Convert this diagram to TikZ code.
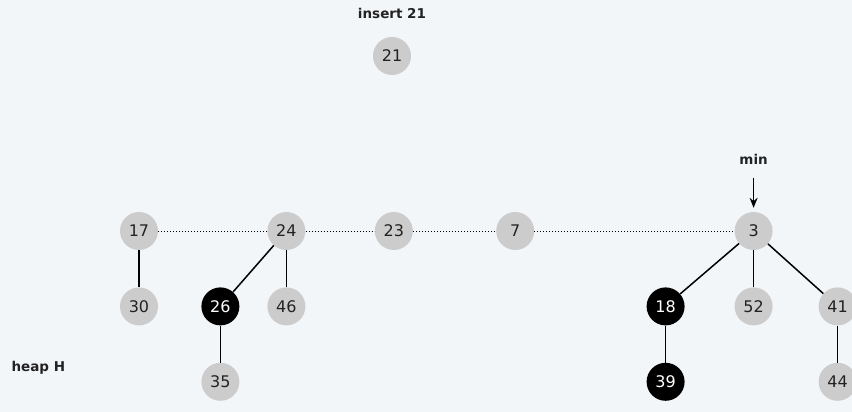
\documentclass[tikz,border=0pt]{standalone}
\usepackage{fontspec}
\setmainfont{DejaVu Sans}
\usepackage{xcolor}
\usetikzlibrary{arrows.meta, positioning}

\definecolor{bgcol}{HTML}{F3F6F9}
\definecolor{keygray}{HTML}{CCCCCC}
\definecolor{inkcol}{HTML}{222222}

\begin{document}
\begin{tikzpicture}[
    x=1pt, y=-1pt,
    node distance=37pt,
    key/.style={circle, fill=keygray, minimum size=38pt, inner sep=0pt,
      text=inkcol, font=\fontsize{16}{16}\selectfont},
    marked/.style={key, fill=black, text=white},
    lbl/.style={font=\fontsize{13.5}{13.5}\selectfont\bfseries, text=inkcol},
    link/.style={draw=black, line width=1.5pt},
    rootlink/.style={draw=black, dotted, line width=1pt}
  ]
  \fill[bgcol] (0,0) rectangle (852,412);
  \useasboundingbox (0,0) rectangle (852,412);

  % new node
  \node[key] (n21) at (392,56) {21};
  \node[lbl] (ins) at ([yshift=43pt]n21) {insert 21};

  % root list
  \node[key] (n17) at (139,231) {17};
  \node[key, right=109pt of n17] (n24) {24};
  \node[key, right=69pt of n24] (n23) {23};
  \node[key, right=83pt of n23] (n7) {7};
  \node[key, right=200pt of n7] (n3) {3};

  % children
  \node[key, below=of n17] (n30) {30};
  \node[marked, below=of n24, xshift=-66pt] (n26) {26};
  \node[key, below=of n24] (n46) {46};
  \node[key, below=of n26] (n35) {35};
  \node[marked, below=of n3, xshift=-88pt] (n18) {18};
  \node[key, below=of n3] (n52) {52};
  \node[key, below=of n3, xshift=84pt] (n41) {41};
  \node[marked, below=of n18] (n39) {39};
  \node[key, below=of n41] (n44) {44};

  \node[lbl] (minlbl) at ([yshift=72pt]n3) {min};
  \node[lbl, anchor=west] (heap) at (8,368) {heap H};

  \draw[rootlink] (n17) -- (n24);
  \draw[rootlink] (n24) -- (n23);
  \draw[rootlink] (n23) -- (n7);
  \draw[rootlink] (n7) -- (n3);

  \draw[link] (n17) -- (n30);
  \draw[link] (n24) -- (n26);
  \draw[link] (n24) -- (n46);
  \draw[link] (n26) -- (n35);
  \draw[link] (n3) -- (n18);
  \draw[link] (n3) -- (n52);
  \draw[link] (n3) -- (n41);
  \draw[link] (n18) -- (n39);
  \draw[link] (n41) -- (n44);

  \draw[line width=1.4pt, -{Stealth[length=10pt, width=8pt]},
    shorten <=10pt, shorten >=4pt] (minlbl.south) -- (n3.north);
\end{tikzpicture}
\end{document}
